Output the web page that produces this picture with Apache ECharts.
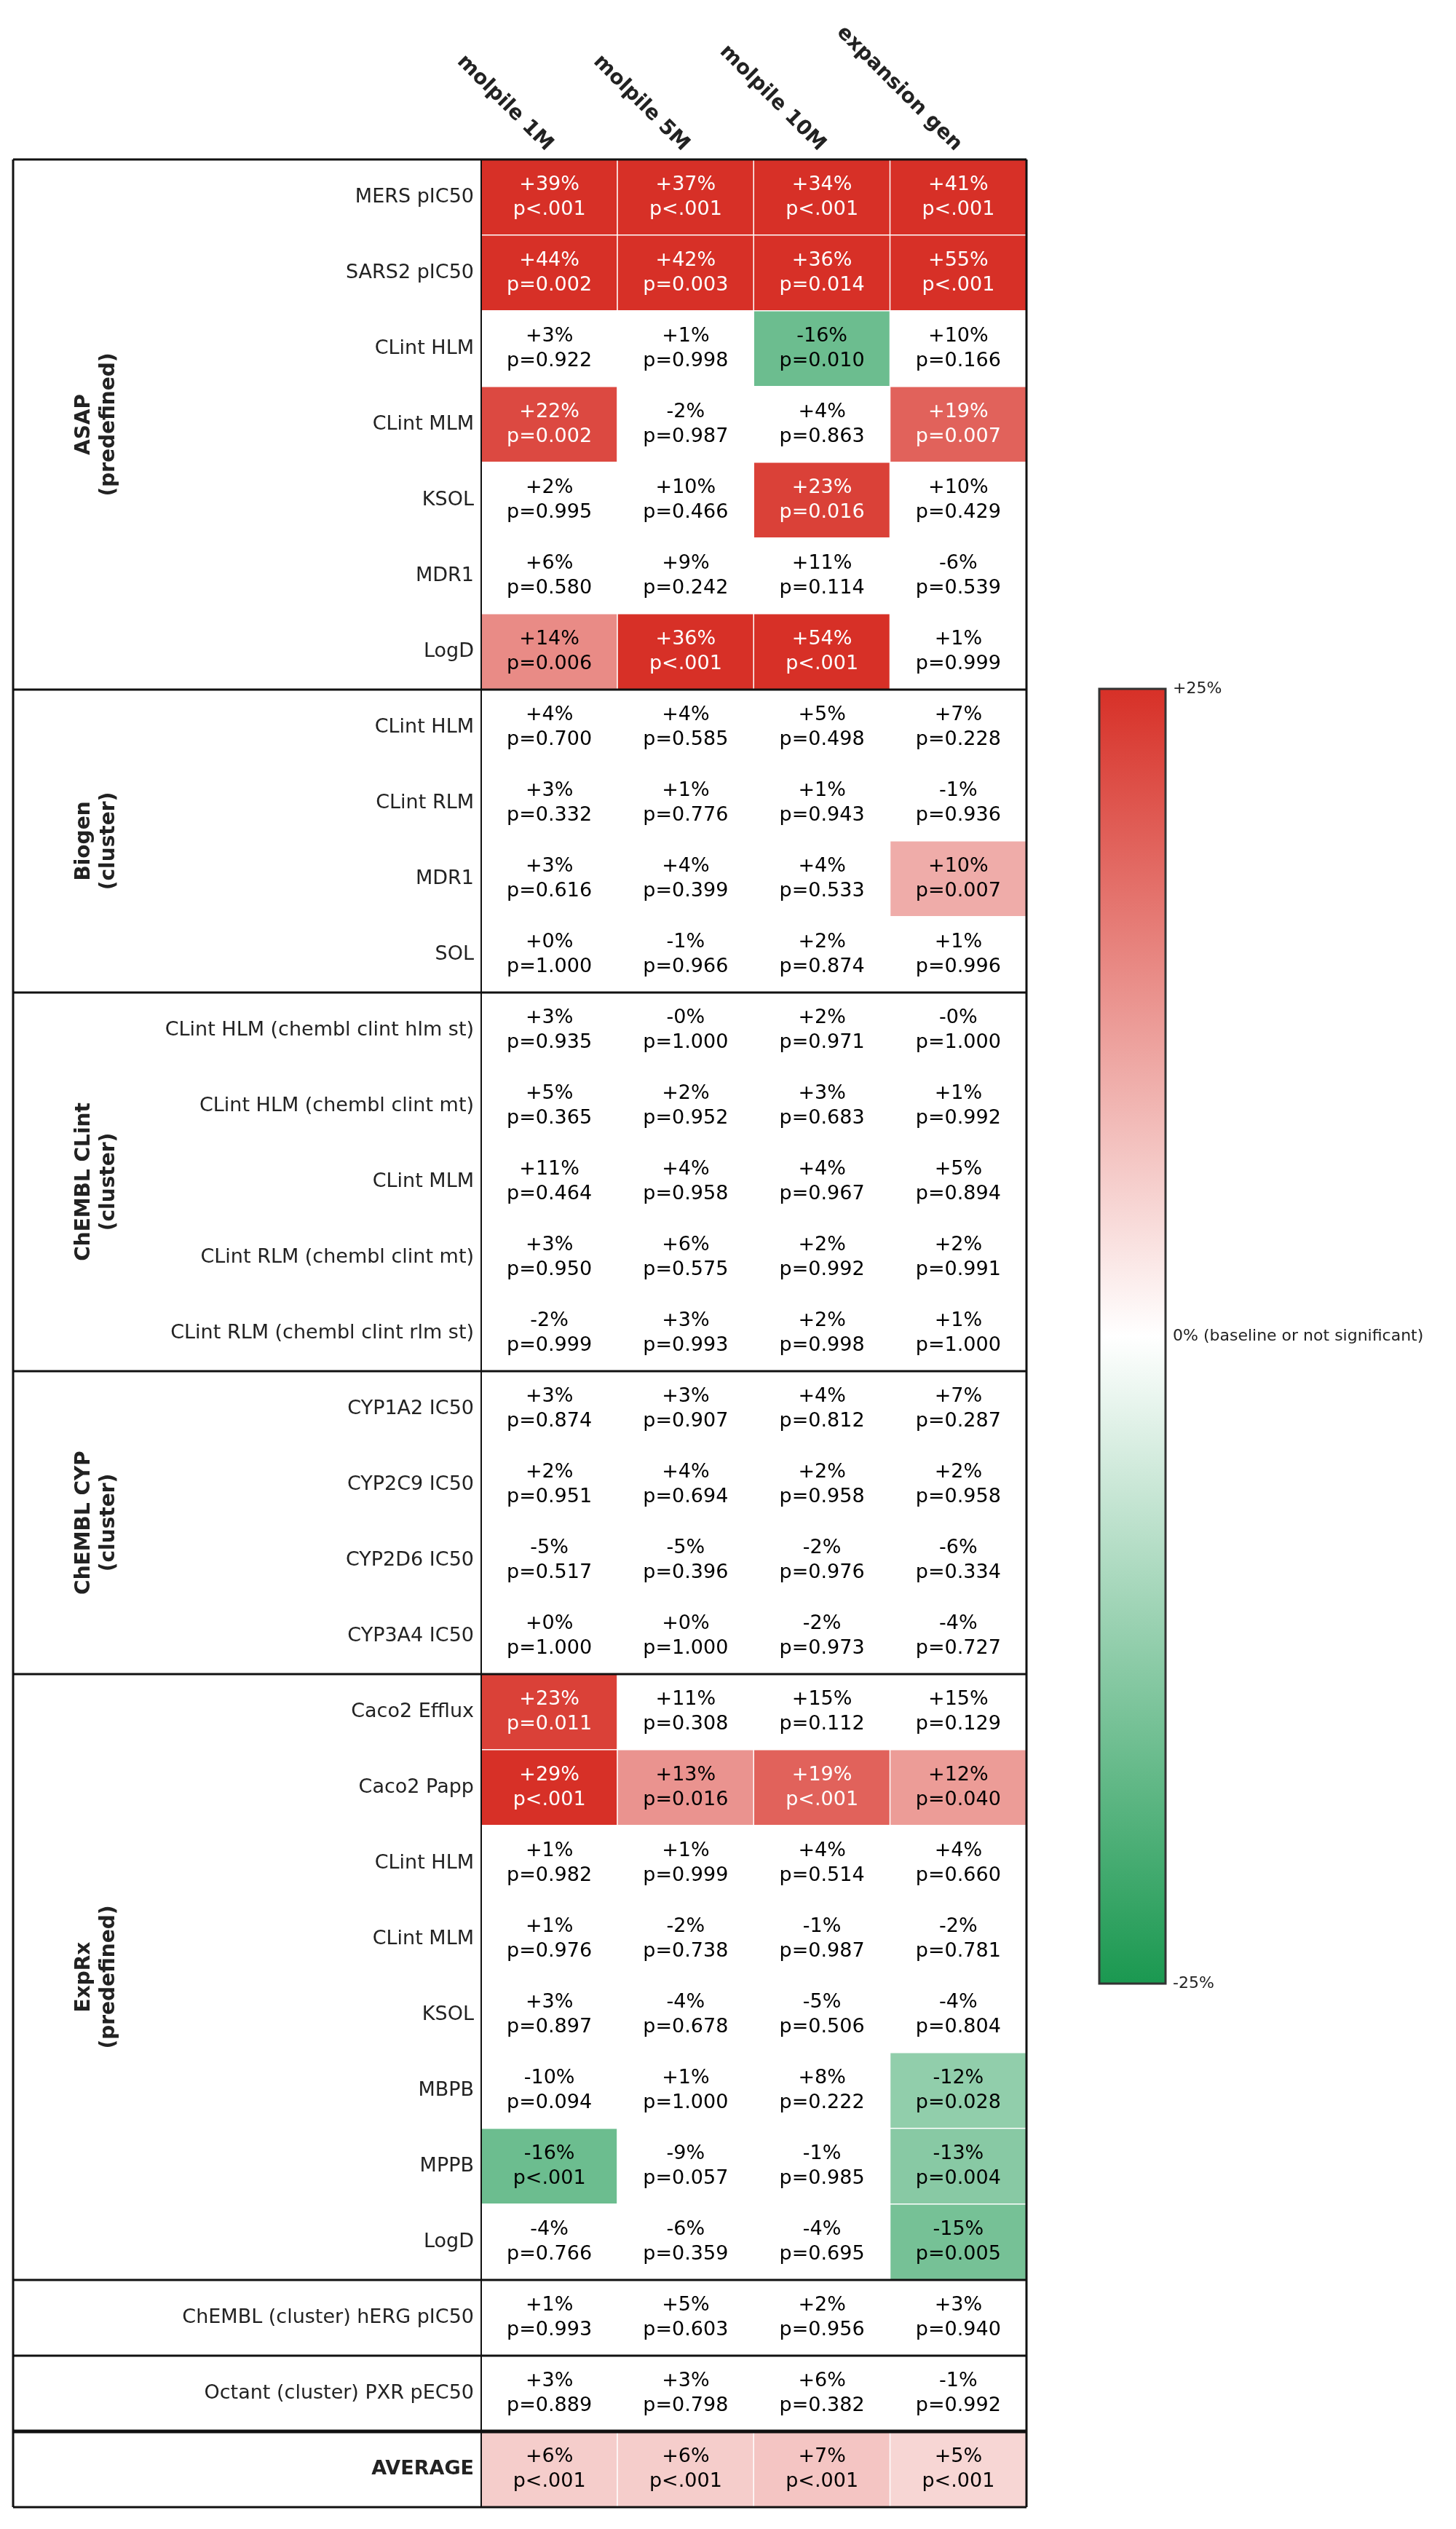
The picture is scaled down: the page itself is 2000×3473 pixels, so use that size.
<!DOCTYPE html>
<html>
<head>
<meta charset="utf-8">
<script src="https://cdn.jsdelivr.net/npm/echarts@6/dist/echarts.min.js"></script>
<style>html,body{margin:0;padding:0;background:#fff}#main{width:2000px;height:3473px}</style>
</head>
<body>
<div id="main"></div>
<script>
// 列 (methods)
const columns = ['molpile 1M', 'molpile 5M', 'molpile 10M', 'expansion gen'];

// 分组 + 行
const groups = [
  { name: 'ASAP\n(predefined)', size: 7 },
  { name: 'Biogen\n(cluster)', size: 4 },
  { name: 'ChEMBL CLint\n(cluster)', size: 5 },
  { name: 'ChEMBL CYP\n(cluster)', size: 4 },
  { name: 'ExpRx\n(predefined)', size: 8 },
  { name: '', size: 1 },
  { name: '', size: 1 },
  { name: '', size: 1 }
];

const rowLabels = [
  'MERS pIC50', 'SARS2 pIC50', 'CLint HLM', 'CLint MLM', 'KSOL', 'MDR1', 'LogD',
  'CLint HLM', 'CLint RLM', 'MDR1', 'SOL',
  'CLint HLM (chembl clint hlm st)', 'CLint HLM (chembl clint mt)', 'CLint MLM',
  'CLint RLM (chembl clint mt)', 'CLint RLM (chembl clint rlm st)',
  'CYP1A2 IC50', 'CYP2C9 IC50', 'CYP2D6 IC50', 'CYP3A4 IC50',
  'Caco2 Efflux', 'Caco2 Papp', 'CLint HLM', 'CLint MLM', 'KSOL', 'MBPB', 'MPPB', 'LogD',
  'ChEMBL (cluster) hERG pIC50', 'Octant (cluster) PXR pEC50', 'AVERAGE'
];

// 效应 (%)
const effects = [
  [39, 37, 34, 41], [44, 42, 36, 55], [3, 1, -16, 10], [22, -2, 4, 19], [2, 10, 23, 10], [6, 9, 11, -6], [14, 36, 54, 1],
  [4, 4, 5, 7], [3, 1, 1, -1], [3, 4, 4, 10], [0, -1, 2, 1],
  [3, -0, 2, -0], [5, 2, 3, 1], [11, 4, 4, 5], [3, 6, 2, 2], [-2, 3, 2, 1],
  [3, 3, 4, 7], [2, 4, 2, 2], [-5, -5, -2, -6], [0, 0, -2, -4],
  [23, 11, 15, 15], [29, 13, 19, 12], [1, 1, 4, 4], [1, -2, -1, -2], [3, -4, -5, -4], [-10, 1, 8, -12], [-16, -9, -1, -13], [-4, -6, -4, -15],
  [1, 5, 2, 3], [3, 3, 6, -1], [6, 6, 7, 5]
];

// p值 (0 => p<.001)
const pvals = [
  [0, 0, 0, 0], [0.002, 0.003, 0.014, 0], [0.922, 0.998, 0.010, 0.166], [0.002, 0.987, 0.863, 0.007], [0.995, 0.466, 0.016, 0.429], [0.580, 0.242, 0.114, 0.539], [0.006, 0, 0, 0.999],
  [0.700, 0.585, 0.498, 0.228], [0.332, 0.776, 0.943, 0.936], [0.616, 0.399, 0.533, 0.007], [1.000, 0.966, 0.874, 0.996],
  [0.935, 1.000, 0.971, 1.000], [0.365, 0.952, 0.683, 0.992], [0.464, 0.958, 0.967, 0.894], [0.950, 0.575, 0.992, 0.991], [0.999, 0.993, 0.998, 1.000],
  [0.874, 0.907, 0.812, 0.287], [0.951, 0.694, 0.958, 0.958], [0.517, 0.396, 0.976, 0.334], [1.000, 1.000, 0.973, 0.727],
  [0.011, 0.308, 0.112, 0.129], [0, 0.016, 0, 0.040], [0.982, 0.999, 0.514, 0.660], [0.976, 0.738, 0.987, 0.781], [0.897, 0.678, 0.506, 0.804], [0.094, 1.000, 0.222, 0.028], [0, 0.057, 0.985, 0.004], [0.766, 0.359, 0.695, 0.005],
  [0.993, 0.603, 0.956, 0.940], [0.889, 0.798, 0.382, 0.992], [0, 0, 0, 0]
];

const cbTicks = ['+25%', '0% (baseline or not significant)', '-25%'];

const FONT = 'DejaVu Sans';
const rowIdx = rowLabels.map((_, i) => String(i));

function fmtEffect(v) {
  const sign = (v > 0 || Object.is(v, 0)) ? '+' : '-';
  return sign + Math.abs(v) + '%';
}
function fmtP(p) {
  return p < 0.001 ? 'p<.001' : 'p=' + p.toFixed(3);
}

const data = [];
effects.forEach((row, r) => {
  row.forEach((v, c) => {
    const sig = pvals[r][c] < 0.05;
    const colorVal = sig ? Math.max(-25, Math.min(25, v)) : 0;
    data.push({
      value: [c, r, colorVal],
      label: {
        formatter: fmtEffect(v) + '\n' + fmtP(pvals[r][c]),
        color: sig && Math.abs(v) >= 18 ? '#ffffff' : '#000000'
      }
    });
  });
});

const chart = echarts.init(document.getElementById('main'));
const option = {
  backgroundColor: '#fff',
  animation: false,
  grid: { left: 661, right: 590, top: 219, bottom: 30 },
  xAxis: {
    type: 'category', position: 'top', data: columns,
    axisLine: { show: false }, axisTick: { show: false }, splitLine: { show: false },
    axisLabel: { rotate: 45, fontFamily: FONT, fontWeight: 'bold', fontSize: 28, color: '#222', margin: 16 }
  },
  yAxis: {
    type: 'category', inverse: true, data: rowIdx,
    axisLine: { show: false }, axisTick: { show: false }, splitLine: { show: false },
    axisLabel: {
      fontFamily: FONT, fontSize: 27, color: '#222', margin: 10,
      formatter: (v) => rowLabels[+v] === 'AVERAGE' ? '{b|AVERAGE}' : rowLabels[+v],
      rich: { b: { fontFamily: FONT, fontSize: 27, fontWeight: 'bold', color: '#222' } }
    }
  },
  visualMap: {
    show: false, min: -25, max: 25, dimension: 2,
    inRange: { color: ['#1a9850', '#ffffff', '#d73027'] }
  },
  series: [{
    type: 'heatmap', data: data,
    itemStyle: { borderColor: '#ffffff', borderWidth: 1.5 },
    label: { show: true, fontFamily: FONT, fontSize: 27, lineHeight: 34 }
  }]
};
chart.setOption(option);

// 分组框线和标签
const top0 = chart.convertToPixel({ yAxisIndex: 0 }, '0');
const top1 = chart.convertToPixel({ yAxisIndex: 0 }, '1');
const rowH = top1 - top0;
const gridTop = top0 - rowH / 2;
const xl = chart.convertToPixel({ xAxisIndex: 0 }, columns[0]);
const x1 = chart.convertToPixel({ xAxisIndex: 0 }, columns[1]);
const colW = x1 - xl;
const heatLeft = xl - colW / 2;
const heatRight = heatLeft + colW * columns.length;
const boxLeft = 18;
const totalRows = rowLabels.length;
const gridBottom = gridTop + rowH * totalRows;

const graphics = [];
const line = (x1_, y1_, x2_, y2_, w) => graphics.push({
  type: 'line', shape: { x1: x1_, y1: y1_, x2: x2_, y2: y2_ },
  style: { stroke: '#111', lineWidth: w }, z: 100
});
line(boxLeft, gridTop, heatRight, gridTop, 3);
line(boxLeft, gridBottom, heatRight, gridBottom, 3);
line(boxLeft, gridTop, boxLeft, gridBottom, 3);
line(heatRight, gridTop, heatRight, gridBottom, 3);
line(heatLeft, gridTop, heatLeft, gridBottom, 2);

let start = 0;
groups.forEach((g, gi) => {
  const yStart = gridTop + start * rowH;
  const yEnd = yStart + g.size * rowH;
  if (gi < groups.length - 1) line(boxLeft, yEnd, heatRight, yEnd, gi === groups.length - 2 ? 5 : 3);
  if (g.name) {
    graphics.push({
      type: 'text', x: 133, y: (yStart + yEnd) / 2, rotation: Math.PI / 2,
      style: {
        text: g.name, fontFamily: FONT, fontSize: 28, fontWeight: 'bold', fill: '#222',
        align: 'center', verticalAlign: 'middle', lineHeight: 34
      }
    });
  }
  start += g.size;
});

// 色条
const cbX = 1510, cbY = 946, cbW = 91, cbH = 1778;
graphics.push({
  type: 'rect', shape: { x: cbX, y: cbY, width: cbW, height: cbH },
  style: {
    fill: new echarts.graphic.LinearGradient(0, 0, 0, 1, [
      { offset: 0, color: '#d73027' }, { offset: 0.5, color: '#ffffff' }, { offset: 1, color: '#1a9850' }
    ]),
    stroke: '#333', lineWidth: 3
  }
});
cbTicks.forEach((t, i) => {
  graphics.push({
    type: 'text', x: cbX + cbW + 10, y: cbY + cbH * i / 2,
    style: { text: t, fontFamily: FONT, fontSize: 22, fill: '#222', verticalAlign: 'middle' }
  });
});

chart.setOption({ graphic: graphics });
</script>
</body>
</html>
